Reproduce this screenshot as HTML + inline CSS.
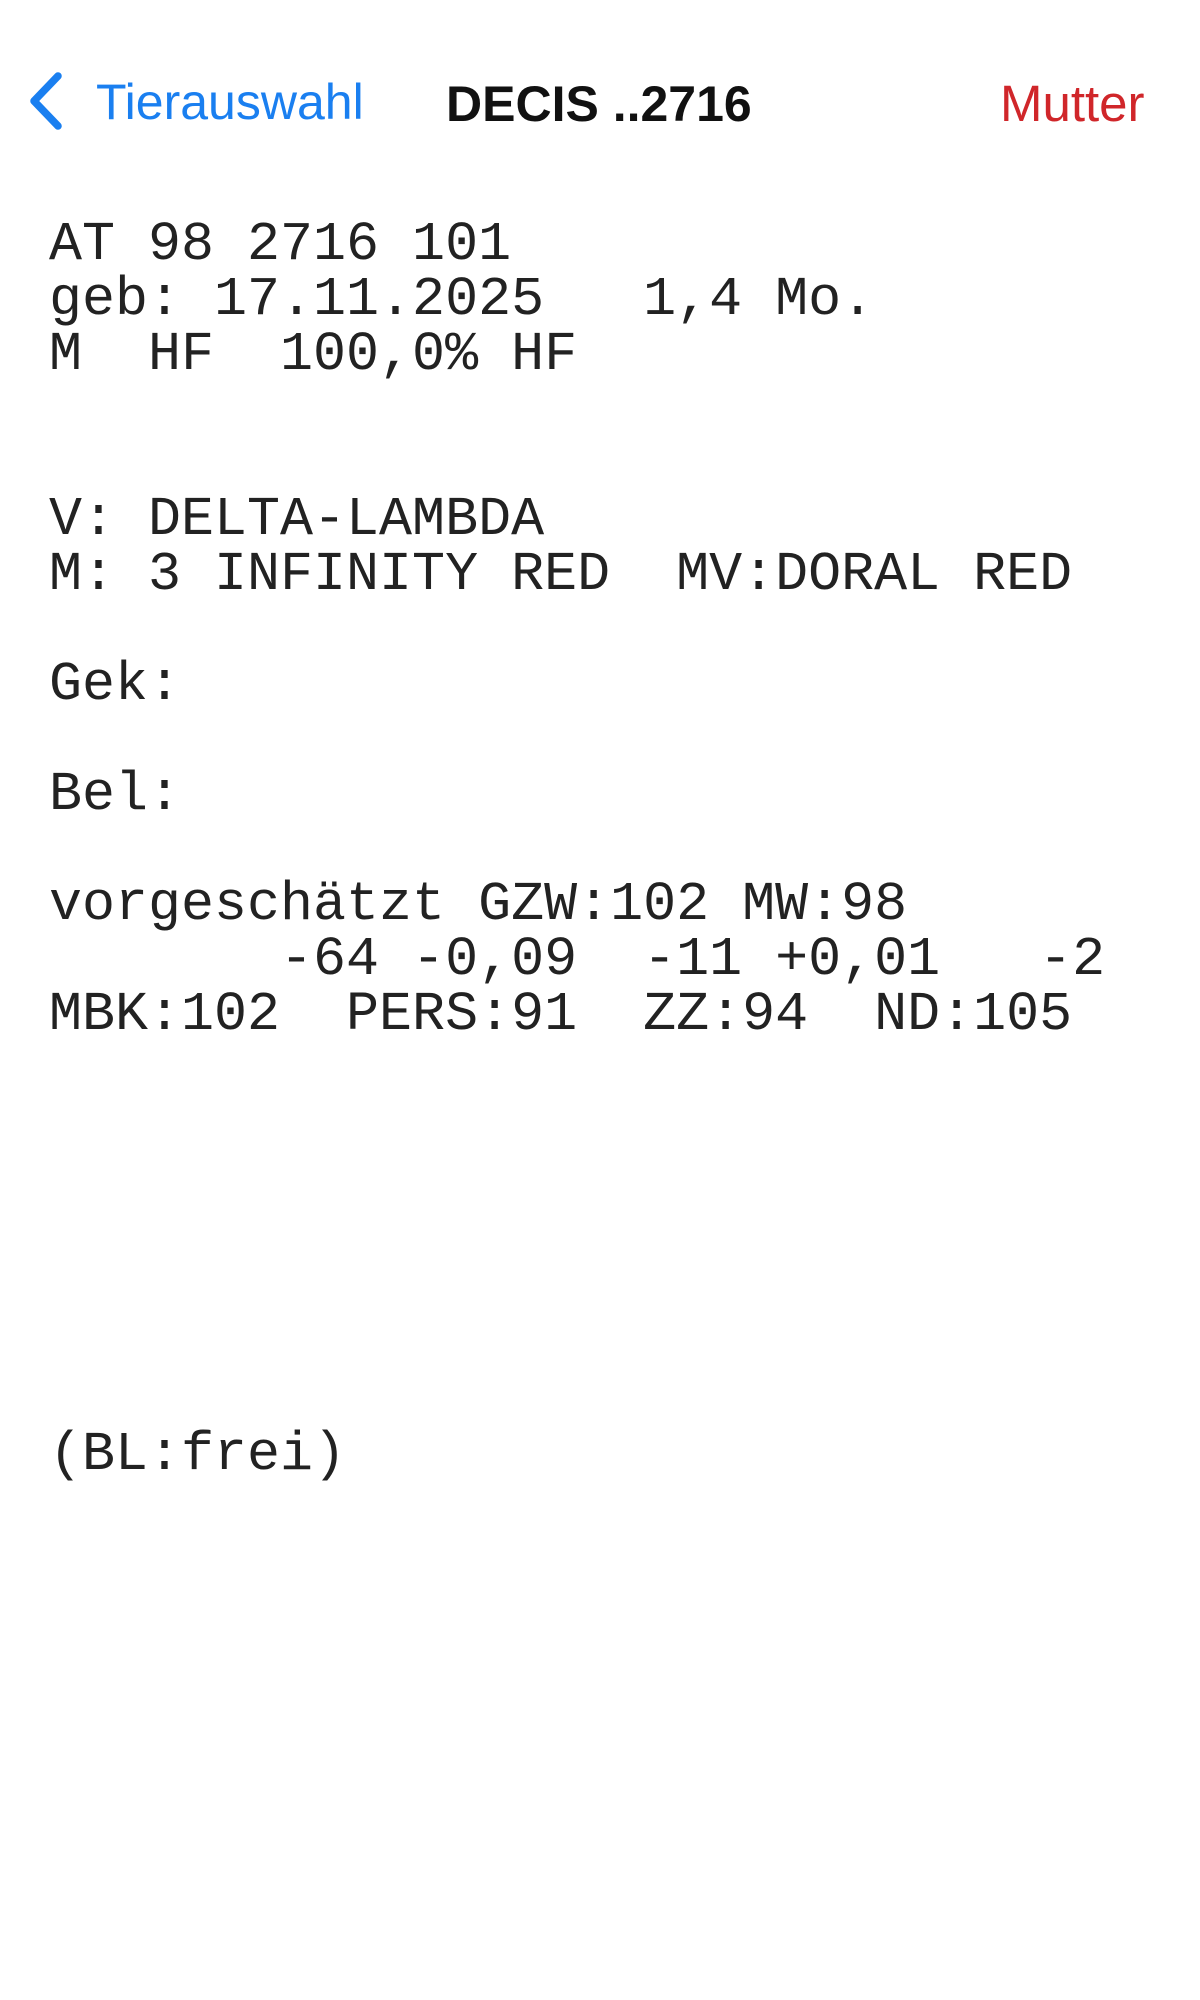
<!DOCTYPE html>
<html><head><meta charset="utf-8"><style>
html,body{margin:0;padding:0;background:#fff;width:1200px;height:2000px;overflow:hidden}
.n{position:absolute;font-family:"Liberation Sans",sans-serif;white-space:nowrap;line-height:1}
pre{position:absolute;left:49px;top:217px;margin:0;font-family:"Liberation Mono",monospace;font-size:55px;line-height:55px;color:#222}
</style></head><body>
<svg style="position:absolute;left:0;top:0" width="100" height="150"><polyline points="58,76 34,101 58,126" fill="none" stroke="#1a7ff0" stroke-width="7.5" stroke-linecap="round" stroke-linejoin="round"/></svg>
<div class="n" style="left:96px;top:77px;font-size:50px;color:#1a7ff0">Tierauswahl</div>
<div class="n" style="left:446px;top:79px;font-size:50px;font-weight:bold;color:#111">DECIS ..2716</div>
<div class="n" style="left:1000px;top:78px;font-size:51px;color:#d0262a">Mutter</div>
<pre>AT 98 2716 101
geb: 17.11.2025   1,4 Mo.
M  HF  100,0% HF


V: DELTA-LAMBDA
M: 3 INFINITY RED  MV:DORAL RED

Gek:

Bel:

vorgeschätzt GZW:102 MW:98
       -64 -0,09  -11 +0,01   -2
MBK:102  PERS:91  ZZ:94  ND:105







(BL:frei)</pre>
</body></html>
